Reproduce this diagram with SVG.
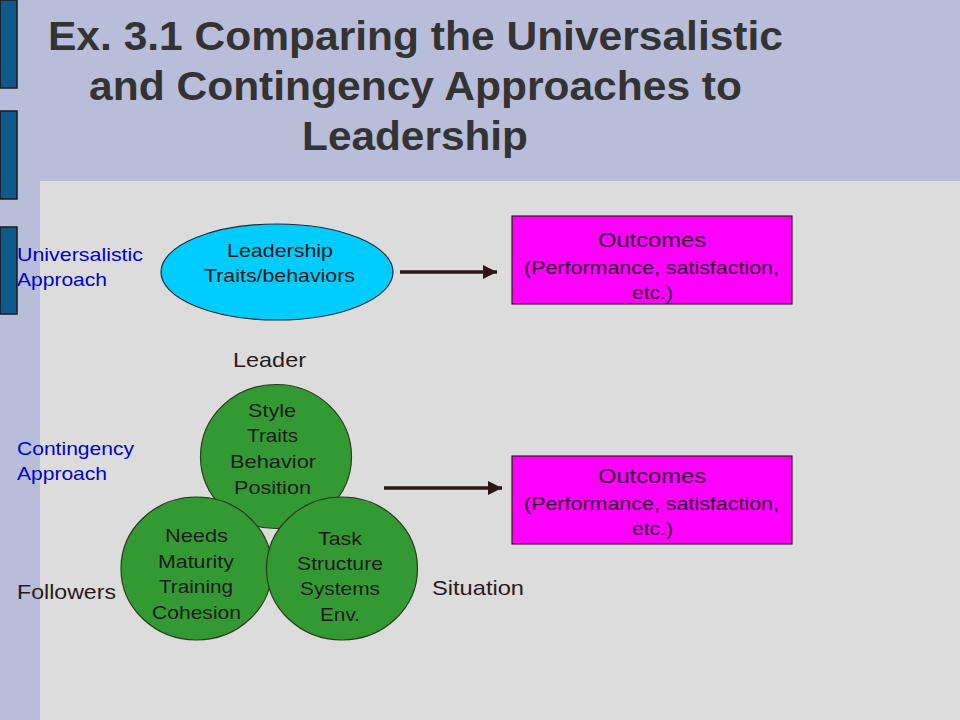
<svg xmlns="http://www.w3.org/2000/svg" width="960" height="720" viewBox="0 0 960 720">
<defs>
<style>
.t{font-family:"Liberation Sans",Arial,sans-serif}
.title{font-family:"Liberation Sans Narrow","Liberation Sans",Arial,sans-serif;font-size:40px;font-weight:bold;fill:#333333;text-anchor:middle}
.blue{font-size:18.5px;fill:#0000cc}
.lab{font-size:21px;fill:#2a1a1a}
.in{font-size:18.5px;fill:#1a1a1a;text-anchor:middle}
.out{fill:#2e0a2e;text-anchor:middle}
.bar{fill:#0f5a8a;stroke:#1a1a1a;stroke-width:1.5}
.circ{fill:#339933;stroke:#2a3a1a;stroke-width:1.2}
.box{fill:#ff00ff;stroke:#2a1a1a;stroke-width:1.2}
.conn{stroke:#2e1616;stroke-width:3.5;fill:none}
</style>
<marker id="ah" viewBox="0 0 10 10" refX="10" refY="5" markerWidth="4" markerHeight="4" markerUnits="strokeWidth" orient="auto">
<path d="M0,0 L10,5 L0,10 Z" fill="#2e1616"/>
</marker>
</defs>
<rect x="0" y="0" width="960" height="720" fill="#b8bdd9"/>
<rect x="40" y="181" width="920" height="539" fill="#dcdcdc"/>
<g id="bars">
<rect class="bar" x="0" y="0" width="17" height="88"/>
<rect class="bar" x="0" y="111" width="17" height="88"/>
<rect class="bar" x="0" y="227" width="17" height="87"/>
</g>
<g id="title" class="t">
<text class="title" x="415.5" y="50" textLength="735" lengthAdjust="spacingAndGlyphs">Ex. 3.1 Comparing the Universalistic</text>
<text class="title" x="415.5" y="100" textLength="653" lengthAdjust="spacingAndGlyphs">and Contingency Approaches to</text>
<text class="title" x="415" y="150" textLength="226" lengthAdjust="spacingAndGlyphs">Leadership</text>
</g>
<g id="labels" class="t">
<text class="blue" x="17" y="261" textLength="126" lengthAdjust="spacingAndGlyphs">Universalistic</text>
<text class="blue" x="17" y="286" textLength="90" lengthAdjust="spacingAndGlyphs">Approach</text>
<text class="blue" x="17" y="455" textLength="117" lengthAdjust="spacingAndGlyphs">Contingency</text>
<text class="blue" x="17" y="480" textLength="90" lengthAdjust="spacingAndGlyphs">Approach</text>
<text class="lab" x="17" y="599" textLength="99" lengthAdjust="spacingAndGlyphs">Followers</text>
<text class="lab" x="233" y="367" textLength="73" lengthAdjust="spacingAndGlyphs">Leader</text>
<text class="lab" x="432" y="595" textLength="92" lengthAdjust="spacingAndGlyphs">Situation</text>
</g>
<g id="connectors">
<line class="conn" x1="400" y1="272" x2="497" y2="272" marker-end="url(#ah)"/>
<line class="conn" x1="384" y1="488" x2="502" y2="488" marker-end="url(#ah)"/>
</g>
<g id="leadership" class="t">
<ellipse cx="277" cy="272" rx="116" ry="48" fill="#00ccff" stroke="#1a2a3a" stroke-width="1.2"/>
<text class="in" x="280" y="257" textLength="106" lengthAdjust="spacingAndGlyphs">Leadership</text>
<text class="in" x="279.5" y="282" textLength="151" lengthAdjust="spacingAndGlyphs">Traits/behaviors</text>
</g>
<g id="outcomes1" class="t">
<rect class="box" x="512" y="216" width="280" height="88"/>
<text class="out" x="652" y="247" font-size="21" textLength="108" lengthAdjust="spacingAndGlyphs">Outcomes</text>
<text class="out" x="651.5" y="274" font-size="18.5" textLength="255" lengthAdjust="spacingAndGlyphs">(Performance, satisfaction,</text>
<text class="out" x="652.5" y="299" font-size="18.5" textLength="41" lengthAdjust="spacingAndGlyphs">etc.)</text>
</g>
<g id="leader" class="t">
<ellipse class="circ" cx="276" cy="456.5" rx="75.5" ry="72"/>
<text class="in" x="272" y="417" textLength="48" lengthAdjust="spacingAndGlyphs">Style</text>
<text class="in" x="272.5" y="442" textLength="51" lengthAdjust="spacingAndGlyphs">Traits</text>
<text class="in" x="273" y="468" textLength="86" lengthAdjust="spacingAndGlyphs">Behavior</text>
<text class="in" x="272.5" y="494" textLength="77" lengthAdjust="spacingAndGlyphs">Position</text>
</g>
<g id="followers" class="t">
<ellipse class="circ" cx="196.5" cy="568.5" rx="75.5" ry="71.5"/>
<text class="in" x="196.5" y="542" textLength="63" lengthAdjust="spacingAndGlyphs">Needs</text>
<text class="in" x="196" y="568" textLength="76" lengthAdjust="spacingAndGlyphs">Maturity</text>
<text class="in" x="196" y="593" textLength="74" lengthAdjust="spacingAndGlyphs">Training</text>
<text class="in" x="196.5" y="619" textLength="89" lengthAdjust="spacingAndGlyphs">Cohesion</text>
</g>
<g id="situation" class="t">
<ellipse class="circ" cx="342" cy="568.5" rx="75.5" ry="71.5"/>
<text class="in" x="340" y="545" textLength="44" lengthAdjust="spacingAndGlyphs">Task</text>
<text class="in" x="340" y="570" textLength="86" lengthAdjust="spacingAndGlyphs">Structure</text>
<text class="in" x="340" y="595" textLength="80" lengthAdjust="spacingAndGlyphs">Systems</text>
<text class="in" x="340" y="621" textLength="40" lengthAdjust="spacingAndGlyphs">Env.</text>
</g>
<g id="outcomes2" class="t">
<rect class="box" x="512" y="456" width="280" height="88"/>
<text class="out" x="652" y="483" font-size="21" textLength="108" lengthAdjust="spacingAndGlyphs">Outcomes</text>
<text class="out" x="651.5" y="510" font-size="18.5" textLength="255" lengthAdjust="spacingAndGlyphs">(Performance, satisfaction,</text>
<text class="out" x="652.5" y="535" font-size="18.5" textLength="41" lengthAdjust="spacingAndGlyphs">etc.)</text>
</g>
</svg>
